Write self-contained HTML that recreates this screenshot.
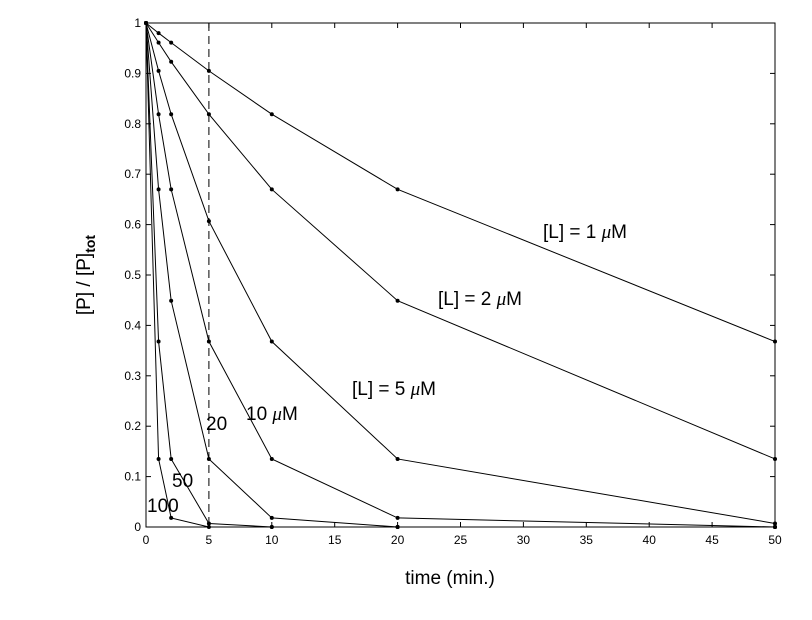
<!DOCTYPE html>
<html><head><meta charset="utf-8"><style>
body{margin:0;background:#fff;}
svg{display:block;font-family:"Liberation Sans",sans-serif;}
</style></head><body>
<svg id="chart" width="812" height="620" viewBox="0 0 812 620">
<rect x="0" y="0" width="812" height="620" fill="#fff"/>
<g id="plot"></g>
<text x="450" y="584" font-size="19" text-anchor="middle">time (min.)</text>
<text transform="translate(90,275) rotate(-90)" font-size="19" text-anchor="middle">[P] / [P]<tspan font-size="14" dy="5" font-weight="bold">tot</tspan></text>
<text x="543" y="238" font-size="19">[L] = 1 <tspan font-family="Liberation Serif" font-style="italic">μ</tspan>M</text>
<text x="438" y="305" font-size="19">[L] = 2 <tspan font-family="Liberation Serif" font-style="italic">μ</tspan>M</text>
<text x="352" y="395" font-size="19">[L] = 5 <tspan font-family="Liberation Serif" font-style="italic">μ</tspan>M</text>
<text x="246" y="420" font-size="19">10 <tspan font-family="Liberation Serif" font-style="italic">μ</tspan>M</text>
<text x="206" y="430" font-size="19">20</text>
<text x="172" y="487" font-size="19">50</text>
<text x="147" y="512" font-size="19">100</text>
</svg>
<script>
const times = [0, 1, 2, 5, 10, 20, 50];
const s1 = [1, 0.980, 0.961, 0.905, 0.819, 0.670, 0.368];
const s2 = [1, 0.961, 0.923, 0.819, 0.670, 0.449, 0.135];
const s5 = [1, 0.905, 0.819, 0.607, 0.368, 0.135, 0.007];
const s10 = [1, 0.819, 0.670, 0.368, 0.135, 0.018, 0.000];
const s20 = [1, 0.670, 0.449, 0.135, 0.018, 0.000, 0.000];
const s50 = [1, 0.368, 0.135, 0.007, 0.000, 0.000, 0.000];
const s100 = [1, 0.135, 0.018, 0.000, 0.000, 0.000, 0.000];
const xTicks = [0, 5, 10, 15, 20, 25, 30, 35, 40, 45, 50];
const yTicks = [0, 0.1, 0.2, 0.3, 0.4, 0.5, 0.6, 0.7, 0.8, 0.9, 1];
const X0 = 146, X1 = 775, Y0 = 527, Y1 = 23;
const xs = t => X0 + (t / 50) * (X1 - X0);
const ys = v => Y0 - v * (Y0 - Y1);
const NS = "http://www.w3.org/2000/svg";
const g = document.getElementById("plot");
function mk(tag, attrs) { const e = document.createElementNS(NS, tag); for (const k in attrs) e.setAttribute(k, attrs[k]); g.appendChild(e); return e; }
const frame = mk("rect", {x: X0, y: Y1, width: X1 - X0, height: Y0 - Y1, fill: "none", stroke: "#000", "stroke-width": 1});


xTicks.forEach(t => {
  const x = xs(t);
  mk("line", {x1: x, y1: Y0, x2: x, y2: Y0 - 5, stroke: "#000"});
  mk("line", {x1: x, y1: Y1, x2: x, y2: Y1 + 5, stroke: "#000"});
  const lb = mk("text", {x: x, y: Y0 + 17, "font-size": 12, "text-anchor": "middle"});
  lb.textContent = t;
  
  
});
yTicks.forEach(v => {
  const y = ys(v);
  mk("line", {x1: X0, y1: y, x2: X0 + 5, y2: y, stroke: "#000"});
  mk("line", {x1: X1, y1: y, x2: X1 - 5, y2: y, stroke: "#000"});
  const lb = mk("text", {x: X0 - 5, y: y + 4, "font-size": 12, "text-anchor": "end"});
  lb.textContent = v;
  
  
});
const dash = mk("line", {x1: xs(5), y1: Y1, x2: xs(5), y2: Y0, stroke: "#000", "stroke-dasharray": "8,5"});


const series = [["series-1uM", s1], ["series-2uM", s2], ["series-5uM", s5], ["series-10uM", s10], ["series-20uM", s20], ["series-50uM", s50], ["series-100uM", s100]];
series.forEach(([name, vals]) => {
  const pl = mk("polyline", {points: vals.map((v, i) => xs(times[i]) + "," + ys(v)).join(" "), fill: "none", stroke: "#000", "stroke-width": 1});
  
  
  vals.forEach((v, i) => {
    const c = mk("circle", {cx: xs(times[i]), cy: ys(v), r: 2, fill: "#000"});
    
    
  });
});
</script>
</body></html>
